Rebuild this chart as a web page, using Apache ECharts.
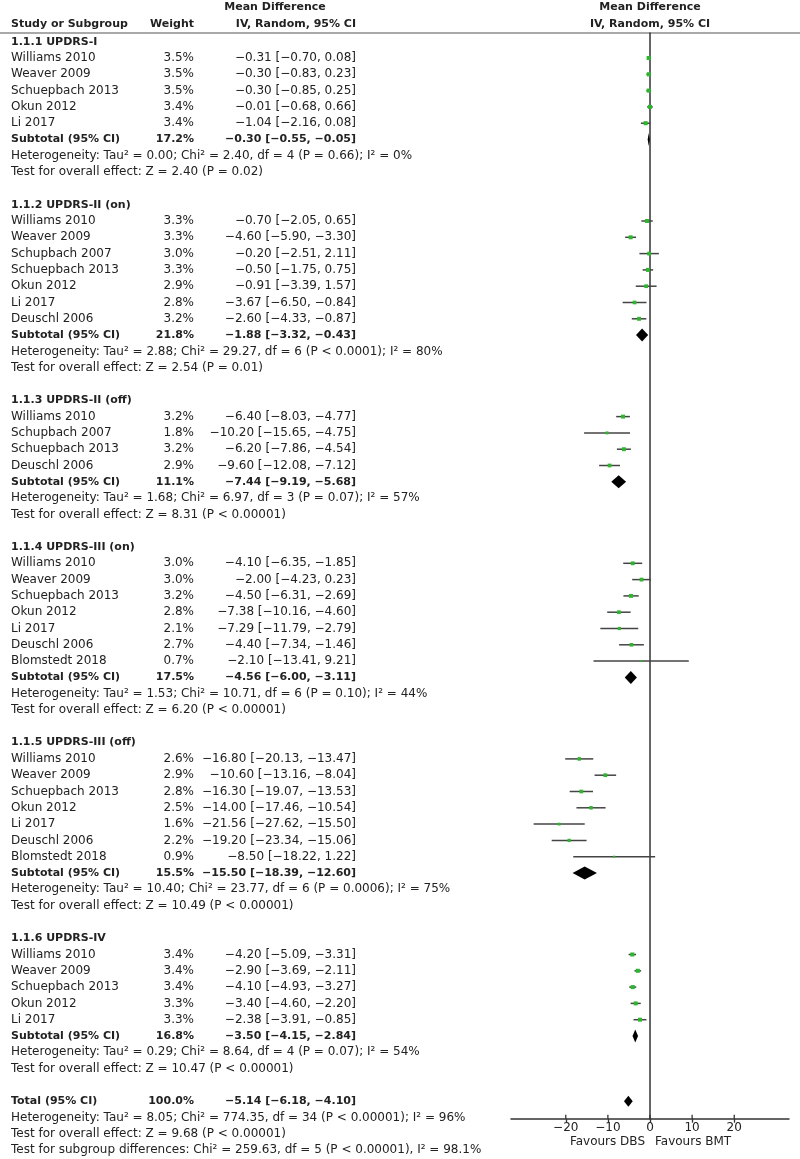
<!DOCTYPE html>
<html><head><meta charset="utf-8">
<script src="https://cdn.jsdelivr.net/npm/echarts@6/dist/echarts.min.js"></script>
<style>html,body{margin:0;padding:0;background:#fff}#c{width:800px;height:1159px}</style>
</head><body><div id="c"></div>
<script>
// ---------------- DATA ----------------
const groupTitles = ['1.1.1 UPDRS-I', '1.1.2 UPDRS-II (on)', '1.1.3 UPDRS-II (off)',
  '1.1.4 UPDRS-III (on)', '1.1.5 UPDRS-III (off)', '1.1.6 UPDRS-IV'];
const studyNames = [
  ['Williams 2010','Weaver 2009','Schuepbach 2013','Okun 2012','Li 2017'],
  ['Williams 2010','Weaver 2009','Schupbach 2007','Schuepbach 2013','Okun 2012','Li 2017','Deuschl 2006'],
  ['Williams 2010','Schupbach 2007','Schuepbach 2013','Deuschl 2006'],
  ['Williams 2010','Weaver 2009','Schuepbach 2013','Okun 2012','Li 2017','Deuschl 2006','Blomstedt 2018'],
  ['Williams 2010','Weaver 2009','Schuepbach 2013','Okun 2012','Li 2017','Deuschl 2006','Blomstedt 2018'],
  ['Williams 2010','Weaver 2009','Schuepbach 2013','Okun 2012','Li 2017']
];
const studyWeights = [
  [3.5,3.5,3.5,3.4,3.4],
  [3.3,3.3,3.0,3.3,2.9,2.8,3.2],
  [3.2,1.8,3.2,2.9],
  [3.0,3.0,3.2,2.8,2.1,2.7,0.7],
  [2.6,2.9,2.8,2.5,1.6,2.2,0.9],
  [3.4,3.4,3.4,3.3,3.3]
];
const studyMeans = [
  [-0.31,-0.30,-0.30,-0.01,-1.04],
  [-0.70,-4.60,-0.20,-0.50,-0.91,-3.67,-2.60],
  [-6.40,-10.20,-6.20,-9.60],
  [-4.10,-2.00,-4.50,-7.38,-7.29,-4.40,-2.10],
  [-16.80,-10.60,-16.30,-14.00,-21.56,-19.20,-8.50],
  [-4.20,-2.90,-4.10,-3.40,-2.38]
];
const studyLows = [
  [-0.70,-0.83,-0.85,-0.68,-2.16],
  [-2.05,-5.90,-2.51,-1.75,-3.39,-6.50,-4.33],
  [-8.03,-15.65,-7.86,-12.08],
  [-6.35,-4.23,-6.31,-10.16,-11.79,-7.34,-13.41],
  [-20.13,-13.16,-19.07,-17.46,-27.62,-23.34,-18.22],
  [-5.09,-3.69,-4.93,-4.60,-3.91]
];
const studyHighs = [
  [0.08,0.23,0.25,0.66,0.08],
  [0.65,-3.30,2.11,0.75,1.57,-0.84,-0.87],
  [-4.77,-4.75,-4.54,-7.12],
  [-1.85,0.23,-2.69,-4.60,-2.79,-1.46,9.21],
  [-13.47,-8.04,-13.53,-10.54,-15.50,-15.06,1.22],
  [-3.31,-2.11,-3.27,-2.20,-0.85]
];
const subtotalWeights = [17.2, 21.8, 11.1, 17.5, 15.5, 16.8];
const subtotalMeans = [-0.30, -1.88, -7.44, -4.56, -15.50, -3.50];
const subtotalLows  = [-0.55, -3.32, -9.19, -6.00, -18.39, -4.15];
const subtotalHighs = [-0.05, -0.43, -5.68, -3.11, -12.60, -2.84];
const heterogeneityTexts = [
  'Heterogeneity: Tau\u00b2 = 0.00; Chi\u00b2 = 2.40, df = 4 (P = 0.66); I\u00b2 = 0%',
  'Heterogeneity: Tau\u00b2 = 2.88; Chi\u00b2 = 29.27, df = 6 (P < 0.0001); I\u00b2 = 80%',
  'Heterogeneity: Tau\u00b2 = 1.68; Chi\u00b2 = 6.97, df = 3 (P = 0.07); I\u00b2 = 57%',
  'Heterogeneity: Tau\u00b2 = 1.53; Chi\u00b2 = 10.71, df = 6 (P = 0.10); I\u00b2 = 44%',
  'Heterogeneity: Tau\u00b2 = 10.40; Chi\u00b2 = 23.77, df = 6 (P = 0.0006); I\u00b2 = 75%',
  'Heterogeneity: Tau\u00b2 = 0.29; Chi\u00b2 = 8.64, df = 4 (P = 0.07); I\u00b2 = 54%'
];
const overallEffectTexts = [
  'Test for overall effect: Z = 2.40 (P = 0.02)',
  'Test for overall effect: Z = 2.54 (P = 0.01)',
  'Test for overall effect: Z = 8.31 (P < 0.00001)',
  'Test for overall effect: Z = 6.20 (P < 0.00001)',
  'Test for overall effect: Z = 10.49 (P < 0.00001)',
  'Test for overall effect: Z = 10.47 (P < 0.00001)'
];
const totalLabel = 'Total (95% CI)';
const totalValues = [100.0, -5.14, -6.18, -4.10]; // weight, mean, low, high
const totalNotes = [
  'Heterogeneity: Tau\u00b2 = 8.05; Chi\u00b2 = 774.35, df = 34 (P < 0.00001); I\u00b2 = 96%',
  'Test for overall effect: Z = 9.68 (P < 0.00001)',
  'Test for subgroup differences: Chi\u00b2 = 259.63, df = 5 (P < 0.00001), I\u00b2 = 98.1%'
];
const xTicks = [-20, -10, 0, 10, 20];
const favourLabels = ['Favours DBS', 'Favours BMT'];

// ---------------- LAYOUT ----------------
const W = 800, H = 1159;
const ROW0 = 41.7, ROWH = 16.3;       // pixel centre of row 0, row pitch
const RULE_Y = 33, AXIS_Y = 1118.7;
const PLOT_L = 511, PLOT_R = 789;
const X_MIN = -33, X_MAX = 33;
const COL_NAME = 11, COL_WEIGHT = 194, COL_MD = 356, COL_MDHEAD = 275;
const FONT = 'DejaVu Sans', TXT = '#222';
const u = px => (px - ROW0) / ROWH;

const minus = s => String(s).replace(/-/g, '\u2212');
const fmt = v => minus(v.toFixed(2));
const ci = (m, l, h) => fmt(m) + ' [' + fmt(l) + ', ' + fmt(h) + ']';
const pct = w => w.toFixed(1) + '%';

const texts = [];      // table text (grid 0, pixel-like x)
const studyPts = [];   // [mean, row, low, high, weight]
const diamonds = [];   // [mean, row, low, high, halfHeight]
const T = (x, r, text, align, bold) => texts.push({x, r, text, align, bold});

T(COL_NAME, u(24), 'Study or Subgroup', 'left', true);
T(COL_WEIGHT, u(24), 'Weight', 'right', true);
T(COL_MDHEAD, u(7.5), 'Mean Difference', 'center', true);
T(COL_MD, u(24), 'IV, Random, 95% CI', 'right', true);

let r = 0;
groupTitles.forEach((title, g) => {
  T(COL_NAME, r, title, 'left', true); r++;
  studyNames[g].forEach((nm, i) => {
    T(COL_NAME, r, nm, 'left', false);
    T(COL_WEIGHT, r, pct(studyWeights[g][i]), 'right', false);
    T(COL_MD, r, ci(studyMeans[g][i], studyLows[g][i], studyHighs[g][i]), 'right', false);
    studyPts.push([studyMeans[g][i], r, studyLows[g][i], studyHighs[g][i], studyWeights[g][i]]);
    r++;
  });
  T(COL_NAME, r, 'Subtotal (95% CI)', 'left', true);
  T(COL_WEIGHT, r, pct(subtotalWeights[g]), 'right', true);
  T(COL_MD, r, ci(subtotalMeans[g], subtotalLows[g], subtotalHighs[g]), 'right', true);
  diamonds.push([subtotalMeans[g], r, subtotalLows[g], subtotalHighs[g], 6.5]);
  r++;
  T(COL_NAME, r, heterogeneityTexts[g], 'left', false); r++;
  T(COL_NAME, r, overallEffectTexts[g], 'left', false); r++;
  r++; // blank row
});
T(COL_NAME, r, totalLabel, 'left', true);
T(COL_WEIGHT, r, pct(totalValues[0]), 'right', true);
T(COL_MD, r, ci(totalValues[1], totalValues[2], totalValues[3]), 'right', true);
diamonds.push([totalValues[1], r, totalValues[2], totalValues[3], 5.5]);
r++;
totalNotes.forEach(t => { T(COL_NAME, r, t, 'left', false); r++; });

// texts drawn in the forest grid (x in data units)
const plotTexts = [
  {x: 0, r: u(7.5), text: 'Mean Difference', align: 'center', bold: true},
  {x: 0, r: u(24), text: 'IV, Random, 95% CI', align: 'center', bold: true},
  {x: 0, r: u(1141.7), text: favourLabels[0], align: 'right', bold: false, dx: -5},
  {x: 0, r: u(1141.7), text: favourLabels[1], align: 'left', bold: false, dx: 5}
];

function textItem(t, p) {
  return {
    type: 'text', x: p[0] + (t.dx || 0), y: p[1],
    style: {
      text: t.text, align: t.align, verticalAlign: 'middle',
      fontFamily: FONT, fontSize: t.bold ? 11 : 12, fontWeight: t.bold ? 'bold' : 'normal',
      fill: TXT
    }
  };
}

const Y_MIN_P = u(RULE_Y), Y_MAX_P = u(AXIS_Y);

const chart = echarts.init(document.getElementById('c'), null, {renderer: 'canvas'});
chart.setOption({
  backgroundColor: '#fff',
  animation: false,
  graphic: [{
    type: 'line', shape: {x1: 0, y1: RULE_Y, x2: W, y2: RULE_Y},
    style: {stroke: '#555', lineWidth: 1.2}, silent: true
  }],
  grid: [
    {left: 0, top: 0, width: W, height: H, show: false},
    {left: PLOT_L, top: RULE_Y, width: PLOT_R - PLOT_L, height: AXIS_Y - RULE_Y, show: false}
  ],
  xAxis: [
    {gridIndex: 0, type: 'value', min: 0, max: W, show: false},
    {gridIndex: 1, type: 'value', min: X_MIN, max: X_MAX, position: 'bottom',
     axisLine: {show: true, onZero: false, lineStyle: {color: '#333', width: 1.5}},
     axisTick: {show: true, customValues: xTicks, length: 4, lineStyle: {color: '#333', width: 1.3}},
     axisLabel: {show: true, customValues: xTicks, formatter: v => minus(v), margin: 3,
                 fontFamily: FONT, fontSize: 12, color: TXT},
     splitLine: {show: false}}
  ],
  yAxis: [
    {gridIndex: 0, type: 'value', inverse: true, min: u(0), max: u(H), show: false},
    {gridIndex: 1, type: 'value', inverse: true, min: Y_MIN_P, max: Y_MAX_P,
     axisLine: {show: true, onZero: true, lineStyle: {color: '#333', width: 1.5}},
     axisTick: {show: false}, axisLabel: {show: false}, splitLine: {show: false}}
  ],
  series: [
    {
      type: 'custom', name: 'table', xAxisIndex: 0, yAxisIndex: 0, silent: true,
      data: texts.map(t => [t.x, t.r]),
      renderItem: (params, api) => {
        const t = texts[params.dataIndex];
        return textItem(t, api.coord([t.x, t.r]));
      }
    },
    {
      type: 'custom', name: 'plotText', xAxisIndex: 1, yAxisIndex: 1, silent: true, clip: false,
      data: plotTexts.map(t => [t.x, t.r]),
      renderItem: (params, api) => {
        const t = plotTexts[params.dataIndex];
        return textItem(t, api.coord([t.x, t.r]));
      }
    },
    {
      type: 'custom', name: 'tickUp', xAxisIndex: 1, yAxisIndex: 1, silent: true, clip: false,
      data: xTicks.map(v => [v, Y_MAX_P]),
      renderItem: (params, api) => {
        const p = api.coord([api.value(0), api.value(1)]);
        return {type: 'line', shape: {x1: p[0], y1: p[1] - 4, x2: p[0], y2: p[1]},
                style: {stroke: '#333', lineWidth: 1.3}};
      }
    },
    {
      type: 'custom', name: 'studies', xAxisIndex: 1, yAxisIndex: 1, silent: true,
      data: studyPts,
      encode: {x: [0, 2, 3], y: 1},
      renderItem: (params, api) => {
        const y = api.value(1);
        const c = api.coord([api.value(0), y]);
        const lo = api.coord([api.value(2), y]);
        const hi = api.coord([api.value(3), y]);
        const s = 2.2 * Math.sqrt(api.value(4));
        return {type: 'group', children: [
          {type: 'line', shape: {x1: lo[0], y1: c[1], x2: hi[0], y2: c[1]},
           style: {stroke: '#444', lineWidth: 1.5}},
          {type: 'rect', shape: {x: c[0] - s / 2, y: c[1] - s / 2, width: s, height: s},
           style: {fill: '#2fb62f'}}
        ]};
      }
    },
    {
      type: 'custom', name: 'diamonds', xAxisIndex: 1, yAxisIndex: 1, silent: true,
      data: diamonds,
      encode: {x: [0, 2, 3], y: 1},
      renderItem: (params, api) => {
        const y = api.value(1);
        const c = api.coord([api.value(0), y]);
        const lo = api.coord([api.value(2), y]);
        const hi = api.coord([api.value(3), y]);
        const h = api.value(4);
        return {type: 'polygon',
                shape: {points: [[lo[0], c[1]], [c[0], c[1] - h], [hi[0], c[1]], [c[0], c[1] + h]]},
                style: {fill: '#000'}};
      }
    }
  ]
});
</script>
</body></html>
